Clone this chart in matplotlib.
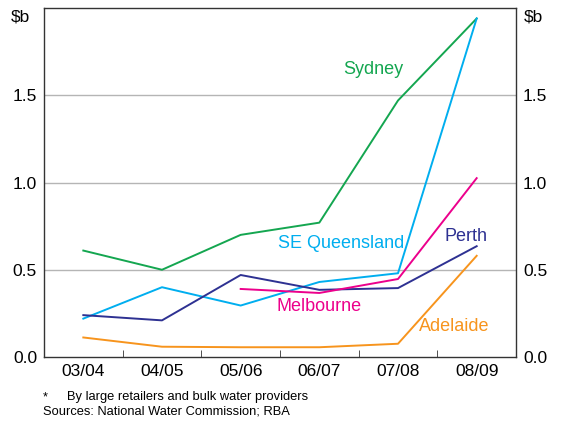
import matplotlib.pyplot as plt
import numpy as np

years = ["03/04", "04/05", "05/06", "06/07", "07/08", "08/09"]
sydney = [0.61, 0.50, 0.70, 0.77, 1.47, 1.94]
se_qld = [0.22, 0.40, 0.295, 0.43, 0.48, 1.94]
perth = [0.24, 0.21, 0.47, 0.385, 0.395, 0.635]
melbourne = [np.nan, np.nan, 0.39, 0.367, 0.447, 1.025]
adelaide = [0.112, 0.059, 0.056, 0.056, 0.076, 0.58]
yticks = [0.0, 0.5, 1.0, 1.5]

series = [
    ("Sydney", sydney, "#14a650", (3.68, 1.65)),
    ("SE Queensland", se_qld, "#00aeef", (3.28, 0.65)),
    ("Perth", perth, "#2e3192", (4.86, 0.69)),
    ("Melbourne", melbourne, "#ec008c", (3.0, 0.29)),
    ("Adelaide", adelaide, "#f7941d", (4.72, 0.177)),
]

plt.rcParams["font.family"] = ["Liberation Sans", "DejaVu Sans"]

fig = plt.figure(figsize=(5.61, 4.22), dpi=100)
ax = fig.add_axes([0.0784, 0.154, 0.8414, 0.827])
x = np.arange(len(years))

for yv in yticks[1:]:
    ax.axhline(yv, color="#b5b5b5", lw=1.0, zorder=1)

for name, vals, color, (lx, ly) in series:
    ax.plot(x, vals, color=color, lw=1.4, zorder=3)
    ax.text(lx, ly, name, color=color, fontsize=13, ha="center", va="center", zorder=4)

ax.set_xlim(-0.5, 5.5)
ax.set_ylim(0, 2.0)
ax.set_xticks(x)
ax.set_xticklabels(years, fontsize=12.5)
ax.set_xticks(np.arange(0.5, 5.0, 1.0), minor=True)
ax.tick_params(axis="x", which="major", length=0, pad=5)
ax.tick_params(axis="x", which="minor", direction="in", length=5, color="#333333")
ax.set_yticks(yticks)
ax.set_yticklabels([f"{v:.1f}" for v in yticks], fontsize=12.5)
ax.tick_params(axis="y", length=0, pad=5, labelleft=True, labelright=True)
for s in ax.spines.values():
    s.set_color("#333333")
    s.set_linewidth(1.0)

fig.text(0.020, 0.960, "$b", fontsize=12.5, ha="left", va="center")
fig.text(0.934, 0.960, "$b", fontsize=12.5, ha="left", va="center")

fig.text(0.077, 0.059, "*", fontsize=9.3, ha="left", va="center")
fig.text(0.119, 0.059, "By large retailers and bulk water providers", fontsize=9.3, ha="left", va="center")
fig.text(0.077, 0.024, "Sources: National Water Commission; RBA", fontsize=9.3, ha="left", va="center")

fig.savefig("out.png", dpi=100)
